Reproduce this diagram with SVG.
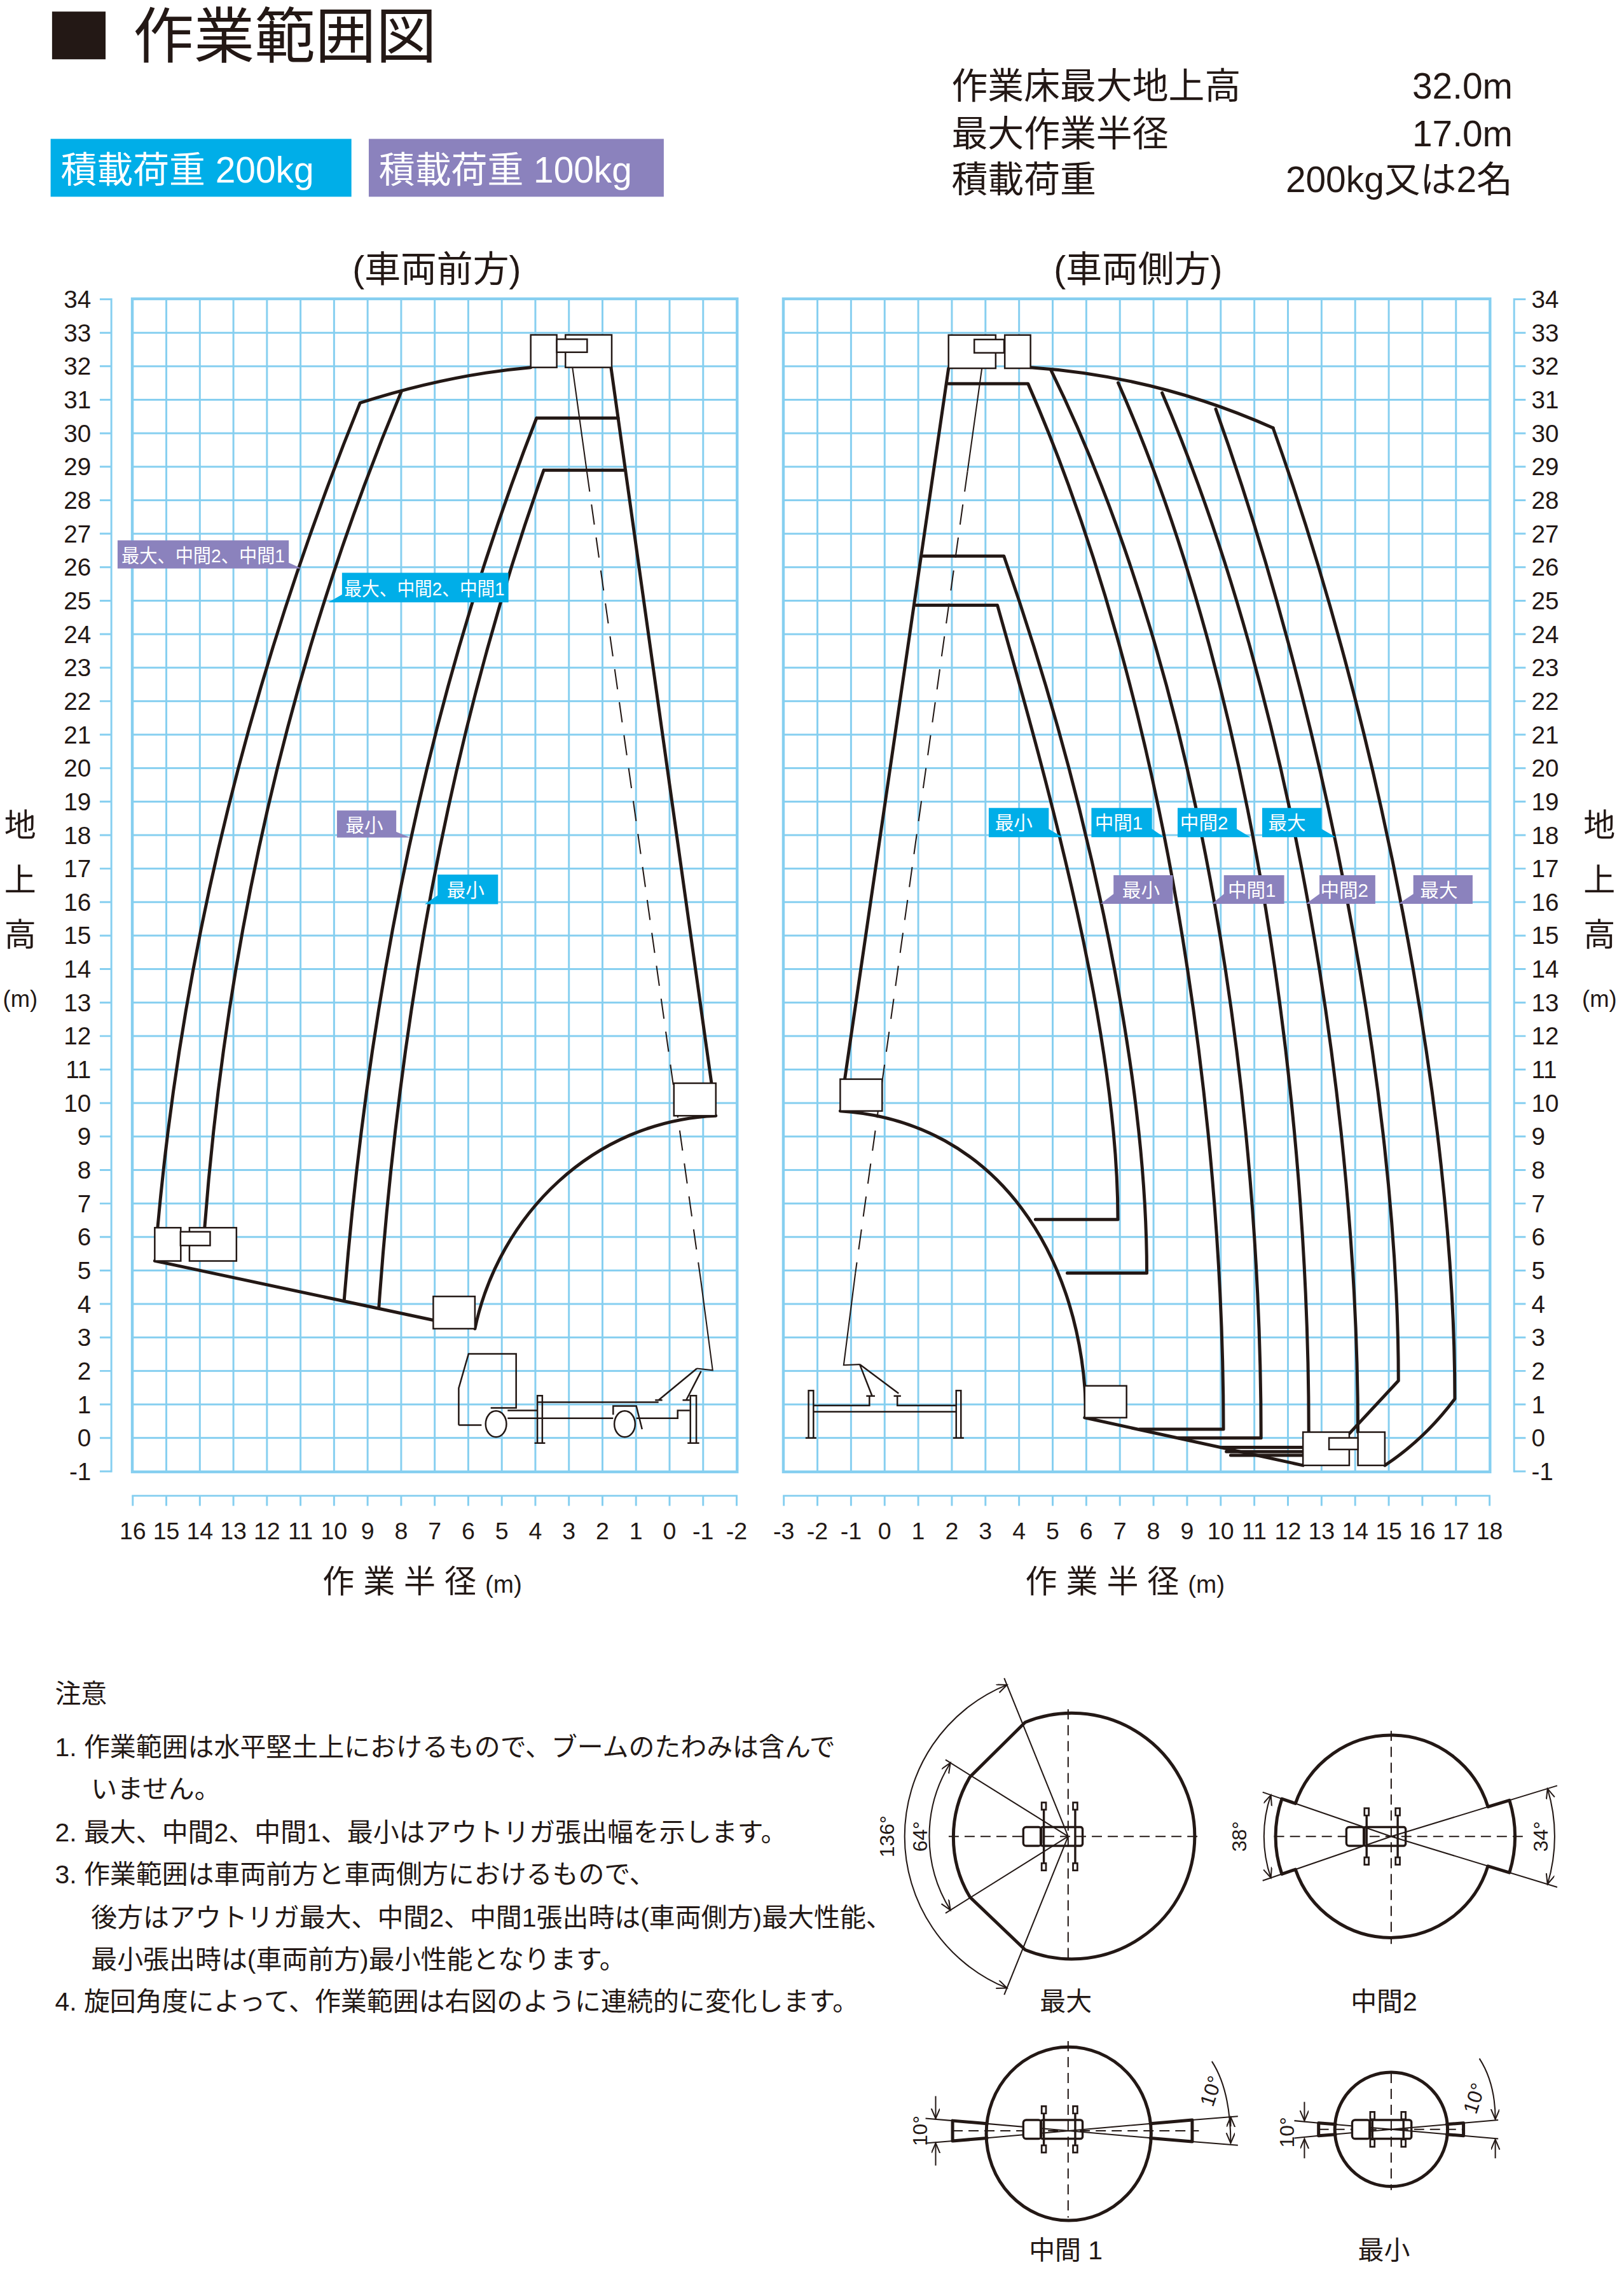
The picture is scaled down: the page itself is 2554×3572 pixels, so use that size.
<svg xmlns="http://www.w3.org/2000/svg" width="2554" height="3572" viewBox="0 0 2554 3572">
<style>
text{font-family:"Liberation Sans","Noto Sans CJK JP",sans-serif;fill:#231815}
.b{fill:none;stroke:#231815;stroke-width:2.2;stroke-linejoin:round;stroke-linecap:round}
.t{fill:#fff;stroke:#231815;stroke-width:1.1}
.tn{fill:none;stroke:#231815;stroke-width:0.9}
.d{fill:none;stroke:#231815;stroke-width:0.9;stroke-dasharray:14 9}
.dc{fill:none;stroke:#231815;stroke-width:0.9;stroke-dasharray:7 4}
.ax{stroke:#86cff0;stroke-width:1.3;fill:none}
.gbox{stroke:#86cff0;stroke-width:1.3}
.tk{stroke:#86cff0;fill:none}
.yl{font-size:17px;text-anchor:end}
.yr{font-size:17px;text-anchor:start}
.xl{font-size:16.5px;text-anchor:middle}
.lab{font-size:13px;fill:#fff}
.cy{fill:#00aee8}
.pu{fill:#8b82bd}
.n{font-size:18px}
.dim{font-size:14px;text-anchor:middle}
</style>
<defs>
<pattern id="gl" x="91.15" y="206.25" width="23.2" height="23.15" patternUnits="userSpaceOnUse"><path d="M0,0.65H23.2M0.65,0V23.15" stroke="#86cff0" stroke-width="1.3"/></pattern>
<pattern id="gr" x="541.35" y="206.25" width="23.24" height="23.15" patternUnits="userSpaceOnUse"><path d="M0,0.65H23.24M0.65,0V23.15" stroke="#86cff0" stroke-width="1.3"/></pattern>
<marker id="ar" markerUnits="userSpaceOnUse" markerWidth="10" markerHeight="8" refX="7" refY="3" orient="auto-start-reverse" viewBox="0 0 10 8"><path d="M0,0L7,3L0,6" fill="none" stroke="#231815" stroke-width="0.9"/></marker>
<g id="veh"><rect x="-31" y="-6.5" width="12.5" height="13" rx="2" fill="#fff" stroke="#231815" stroke-width="1.5"/><rect x="-19" y="-6.5" width="29" height="13" rx="1.5" fill="none" stroke="#231815" stroke-width="1.5"/></g>
</defs>
<rect width="2554" height="3572" fill="#fff"/>
<g transform="scale(2.2743)">
<g id="header">
<rect x="36" y="8" width="37" height="33" fill="#231815"/>
<text x="92" y="40" font-size="42">作業範囲図</text>
<rect x="35" y="96" width="208" height="40" fill="#00aee8"/>
<text x="42" y="126" font-size="25" style="fill:#fff">積載荷重 200kg</text>
<rect x="255" y="96" width="204" height="40" fill="#8b82bd"/>
<text x="262" y="126" font-size="25" style="fill:#fff">積載荷重 100kg</text>
<text x="658" y="68" font-size="25">作業床最大地上高</text>
<text x="1046" y="68" font-size="25" text-anchor="end">32.0m</text>
<text x="658" y="101" font-size="25">最大作業半径</text>
<text x="1046" y="101" font-size="25" text-anchor="end">17.0m</text>
<text x="658" y="133" font-size="25">積載荷重</text>
<text x="1046" y="133" font-size="25" text-anchor="end">200kg又は2名</text>
<text x="302" y="195" font-size="25" text-anchor="middle">(車両前方)</text>
<text x="787" y="195" font-size="25" text-anchor="middle">(車両側方)</text>
</g>
<g id="grids">
<rect x="91.15" y="206.25" width="418.9" height="811.55" fill="url(#gl)" class="gbox"/>
<rect x="541.35" y="206.25" width="489.3" height="811.55" fill="url(#gr)" class="gbox"/>
<line x1="77" y1="206.25" x2="77" y2="1017.8" class="ax"/>
<line x1="73" y1="206.25" x2="73" y2="1018" class="tk" stroke-width="8" stroke-dasharray="1.3 21.85"/>
<line x1="1047" y1="206.25" x2="1047" y2="1017.8" class="ax"/>
<line x1="1051" y1="206.25" x2="1051" y2="1018" class="tk" stroke-width="8" stroke-dasharray="1.3 21.85"/>
<line x1="91.15" y1="1034" x2="510.05" y2="1034" class="ax"/>
<line x1="91.15" y1="1037.5" x2="511" y2="1037.5" class="tk" stroke-width="7" stroke-dasharray="1.3 21.9"/>
<line x1="541.35" y1="1034" x2="1030.65" y2="1034" class="ax"/>
<line x1="541.35" y1="1037.5" x2="1032" y2="1037.5" class="tk" stroke-width="7" stroke-dasharray="1.3 21.94"/>
</g>
<g id="axis-labels">
<text class="yl"><tspan x="63" y="212.9">34</tspan><tspan x="63" y="236">33</tspan><tspan x="63" y="259.2">32</tspan><tspan x="63" y="282.3">31</tspan><tspan x="63" y="305.5">30</tspan><tspan x="63" y="328.6">29</tspan><tspan x="63" y="351.8">28</tspan><tspan x="63" y="374.9">27</tspan><tspan x="63" y="398.1">26</tspan><tspan x="63" y="421.2">25</tspan><tspan x="63" y="444.4">24</tspan><tspan x="63" y="467.5">23</tspan><tspan x="63" y="490.7">22</tspan><tspan x="63" y="513.8">21</tspan><tspan x="63" y="537">20</tspan><tspan x="63" y="560.1">19</tspan><tspan x="63" y="583.3">18</tspan><tspan x="63" y="606.4">17</tspan><tspan x="63" y="629.6">16</tspan><tspan x="63" y="652.7">15</tspan><tspan x="63" y="675.9">14</tspan><tspan x="63" y="699">13</tspan><tspan x="63" y="722.2">12</tspan><tspan x="63" y="745.3">11</tspan><tspan x="63" y="768.5">10</tspan><tspan x="63" y="791.6">9</tspan><tspan x="63" y="814.8">8</tspan><tspan x="63" y="837.9">7</tspan><tspan x="63" y="861.1">6</tspan><tspan x="63" y="884.2">5</tspan><tspan x="63" y="907.4">4</tspan><tspan x="63" y="930.5">3</tspan><tspan x="63" y="953.7">2</tspan><tspan x="63" y="976.8">1</tspan><tspan x="63" y="1000">0</tspan><tspan x="63" y="1023.1">-1</tspan></text>
<text class="yr"><tspan x="1059" y="212.9">34</tspan><tspan x="1059" y="236">33</tspan><tspan x="1059" y="259.2">32</tspan><tspan x="1059" y="282.3">31</tspan><tspan x="1059" y="305.5">30</tspan><tspan x="1059" y="328.6">29</tspan><tspan x="1059" y="351.8">28</tspan><tspan x="1059" y="374.9">27</tspan><tspan x="1059" y="398.1">26</tspan><tspan x="1059" y="421.2">25</tspan><tspan x="1059" y="444.4">24</tspan><tspan x="1059" y="467.5">23</tspan><tspan x="1059" y="490.7">22</tspan><tspan x="1059" y="513.8">21</tspan><tspan x="1059" y="537">20</tspan><tspan x="1059" y="560.1">19</tspan><tspan x="1059" y="583.3">18</tspan><tspan x="1059" y="606.4">17</tspan><tspan x="1059" y="629.6">16</tspan><tspan x="1059" y="652.7">15</tspan><tspan x="1059" y="675.9">14</tspan><tspan x="1059" y="699">13</tspan><tspan x="1059" y="722.2">12</tspan><tspan x="1059" y="745.3">11</tspan><tspan x="1059" y="768.5">10</tspan><tspan x="1059" y="791.6">9</tspan><tspan x="1059" y="814.8">8</tspan><tspan x="1059" y="837.9">7</tspan><tspan x="1059" y="861.1">6</tspan><tspan x="1059" y="884.2">5</tspan><tspan x="1059" y="907.4">4</tspan><tspan x="1059" y="930.5">3</tspan><tspan x="1059" y="953.7">2</tspan><tspan x="1059" y="976.8">1</tspan><tspan x="1059" y="1000">0</tspan><tspan x="1059" y="1023.1">-1</tspan></text>
<text class="xl"><tspan x="91.8" y="1064">16</tspan><tspan x="115" y="1064">15</tspan><tspan x="138.2" y="1064">14</tspan><tspan x="161.4" y="1064">13</tspan><tspan x="184.6" y="1064">12</tspan><tspan x="207.8" y="1064">11</tspan><tspan x="231" y="1064">10</tspan><tspan x="254.2" y="1064">9</tspan><tspan x="277.4" y="1064">8</tspan><tspan x="300.6" y="1064">7</tspan><tspan x="323.8" y="1064">6</tspan><tspan x="347" y="1064">5</tspan><tspan x="370.2" y="1064">4</tspan><tspan x="393.4" y="1064">3</tspan><tspan x="416.6" y="1064">2</tspan><tspan x="439.8" y="1064">1</tspan><tspan x="463" y="1064">0</tspan><tspan x="486.2" y="1064">-1</tspan><tspan x="509.4" y="1064">-2</tspan></text>
<text class="xl"><tspan x="542" y="1064">-3</tspan><tspan x="565.2" y="1064">-2</tspan><tspan x="588.5" y="1064">-1</tspan><tspan x="611.7" y="1064">0</tspan><tspan x="634.9" y="1064">1</tspan><tspan x="658.2" y="1064">2</tspan><tspan x="681.4" y="1064">3</tspan><tspan x="704.7" y="1064">4</tspan><tspan x="727.9" y="1064">5</tspan><tspan x="751.1" y="1064">6</tspan><tspan x="774.4" y="1064">7</tspan><tspan x="797.6" y="1064">8</tspan><tspan x="820.9" y="1064">9</tspan><tspan x="844.1" y="1064">10</tspan><tspan x="867.3" y="1064">11</tspan><tspan x="890.6" y="1064">12</tspan><tspan x="913.8" y="1064">13</tspan><tspan x="937.1" y="1064">14</tspan><tspan x="960.3" y="1064">15</tspan><tspan x="983.5" y="1064">16</tspan><tspan x="1006.8" y="1064">17</tspan><tspan x="1030" y="1064">18</tspan></text>
<text x="292" y="1101" font-size="22" text-anchor="middle">作 業 半 径 <tspan font-size="17">(m)</tspan></text>
<text x="778" y="1101" font-size="22" text-anchor="middle">作 業 半 径 <tspan font-size="17">(m)</tspan></text>
<text font-size="22" text-anchor="middle"><tspan x="14" y="578">地</tspan><tspan x="14" y="616">上</tspan><tspan x="14" y="654">高</tspan><tspan x="14" y="696" font-size="16">(m)</tspan></text>
<text font-size="22" text-anchor="middle"><tspan x="1106" y="578">地</tspan><tspan x="1106" y="616">上</tspan><tspan x="1106" y="654">高</tspan><tspan x="1106" y="696" font-size="16">(m)</tspan></text>
</g>
<g id="connectors">
<path class="b" d="M367,254 Q310,259 249,278.5 Q135,560 109,848.7"/>
<path class="b" d="M277.5,270.7 Q165,540 141.5,848.7"/>
<path class="b" d="M371,289 H427.4 M371,289 Q265,560 238,898.6"/>
<path class="b" d="M376,325 H432.5 M376,325 Q285,580 262,903.5"/>
<path class="b" d="M422.5,254 L492,748.8"/>
<path class="b" d="M107,871.6 L299.6,912.6"/>
<path class="b" d="M328.4,918.5 C345,840 410,775 495,771.3"/>
<path class="tn" d="M394.6,245 L405.8,326"/>
<path class="d" d="M405.8,326 L484.6,885"/>
<path class="tn" d="M484.6,885 L492.8,947.2 L481.9,946"/>
<path class="b" d="M712.6,254 Q800,260 880.3,295.8"/>
<path class="b" d="M655.9,254.6 L584,747"/>
<path class="b" d="M655.9,265.3 H710.9 C805.9,482 846,771 846,988 H788"/>
<path class="b" d="M726.9,256.2 C834.9,477 872,773 872,994 H815"/>
<path class="b" d="M773.2,264.6 C869.2,482 905,773 905,990"/>
<path class="b" d="M803.6,271.6 C895.6,487 939,775 939,990"/>
<path class="b" d="M840.7,282.8 C912.7,484 967,753 967,954.5 L933,991"/>
<path class="b" d="M880.3,295.8 C952.3,497 1006,766 1006,967 Q985,995 957.6,1013"/>
<path class="b" d="M638.5,384.4 H694.2 C746.2,533 793,731 793,880 H738"/>
<path class="b" d="M633.5,418.4 H689.7 C725.7,546 773,715 773,843 H716"/>
<path class="b" d="M581,768 C690,775 750,870 751,980"/>
<path class="b" d="M750,980 L901,1013"/>
<path class="b" d="M845,1000.5 H901 M848,1003.5 H901 M851,1006 H901" stroke-width="1.6"/>
<path class="tn" d="M681,240 L669,326"/>
<path class="d" d="M669,326 L591.5,880"/>
<path class="tn" d="M591.5,880 L583.4,943.7 L594.5,943.2"/>
</g>
<g id="front-basket-top"><rect class="t" x="367" y="231.5" width="18" height="22.5"/><rect class="t" x="391" y="231.5" width="32" height="22.5"/><rect class="t" x="385" y="234.5" width="21" height="9"/></g>
<g id="front-basket-left"><rect class="t" x="107" y="848.7" width="18" height="23"/><rect class="t" x="131" y="848.7" width="32.5" height="23"/><rect class="t" x="124.8" y="851.5" width="20.5" height="9.5"/></g>
<g id="front-basket-low"><rect class="t" x="299.6" y="896.2" width="28.8" height="22.3"/></g>
<g id="front-basket-right"><rect class="t" x="466" y="748.8" width="29" height="22.5"/></g>
<g id="front-truck" fill="none" stroke="#231815" stroke-width="1.1">
<path d="M317.2,985.1 V959.6 L324,935.9 H356.9 V973.3 H339.3 M317.2,985.1 H333"/>
<ellipse cx="343" cy="984.4" rx="7.2" ry="9" fill="#fff"/>
<ellipse cx="432" cy="984.4" rx="7.2" ry="9" fill="#fff"/>
<path d="M371.6,969.3 H455.4 M351,980.4 H424 M440,980.4 H468.6 V975 H477 M351,975 H371.6 M424,978 V972 H440 L444,988"/>
<path d="M371.6,997.6 V964.8 H375 V997.6 M369.6,997.6 H377 M477.4,997.6 V964.8 H481.5 V997.6 M475.4,997.6 H483.5"/>
<path d="M455.4,967.9 L481.9,946 M474.5,967.9 L484.8,947.9 M453,967.9 H458 M472,967.9 H477"/>
</g>
<g id="side-basket-top"><rect class="t" x="655.9" y="231.6" width="32.6" height="23"/><rect class="t" x="694.8" y="231.6" width="17.8" height="23"/><rect class="t" x="673.7" y="234.7" width="20.6" height="9.2"/></g>
<g id="side-basket-left"><rect class="t" x="581" y="746" width="29" height="22"/></g>
<g id="side-basket-low"><rect class="t" x="750" y="958" width="29" height="22"/></g>
<g id="side-basket-right"><rect class="t" x="901" y="990" width="32" height="23"/><rect class="t" x="939" y="990" width="18.6" height="23"/><rect class="t" x="919" y="994" width="20" height="8"/></g>
<g id="side-truck" fill="none" stroke="#231815" stroke-width="1.1">
<path d="M559.1,994 V961.3 H562.5 V994 M557,994 H564.5 M661.2,994 V961.3 H664.5 V994 M659,994 H666.5"/>
<path d="M562.5,971.6 H601.2 V965 M620.5,965 V971.6 H661.2 M562.5,975.9 H661.2"/>
<path d="M594.5,943.2 L602.9,964.6 M594.5,943.2 L621.4,963.3 M599,965 H605 M618,965 H623"/>
</g>
<g id="labels">
<path class="pu" d="M81.3,373.5 H199.7 V389 L208.5,393 H81.3 Z"/><text class="lab" x="84" y="388.5" textLength="113" lengthAdjust="spacingAndGlyphs">最大、中間2、中間1</text>
<path class="cy" d="M236.5,396 H351.6 V416.4 H227 L236.5,411 Z"/><text class="lab" x="238" y="411.5" textLength="111" lengthAdjust="spacingAndGlyphs">最大、中間2、中間1</text>
<path class="pu" d="M233,560.3 H274 V575 L283.5,579 H233 Z"/><text class="lab" x="239" y="575">最小</text>
<path class="cy" d="M302.6,604.6 H344.4 V625 H293.7 L302.6,619 Z"/><text class="lab" x="309" y="620">最小</text>
<path class="cy" d="M683.7,558.5 H725.2 V573 L734.7,578.7 H683.7 Z"/><text class="lab" x="688" y="573.5">最小</text>
<path class="cy" d="M754.7,558.5 H796.6 V573 L805,578.7 H754.7 Z"/><text class="lab" x="757" y="573.5">中間1</text>
<path class="cy" d="M814.3,558.5 H855.2 V573 L864.7,578.7 H814.3 Z"/><text class="lab" x="816" y="573.5">中間2</text>
<path class="cy" d="M872.8,558.5 H913.9 V573 L923.7,578.7 H872.8 Z"/><text class="lab" x="877" y="573.5">最大</text>
<path class="pu" d="M770,605 H811 V624.8 H761 L770,618 Z"/><text class="lab" x="776" y="620">最小</text>
<path class="pu" d="M846.3,605 H888 V624.8 H838 L846.3,618 Z"/><text class="lab" x="849" y="620">中間1</text>
<path class="pu" d="M912.4,605 H951 V624.8 H903 L912.4,618 Z"/><text class="lab" x="913" y="620">中間2</text>
<path class="pu" d="M977.3,605 H1018.3 V624.8 H967 L977.3,618 Z"/><text class="lab" x="982" y="620">最大</text>
</g>
<g id="notes">
<text class="n" x="38" y="1177" font-size="19">注意</text>
<text class="n" x="38" y="1214">1. 作業範囲は水平堅土上におけるもので、ブームのたわみは含んで</text>
<text class="n" x="63" y="1243">いません。</text>
<text class="n" x="38" y="1273">2. 最大、中間2、中間1、最小はアウトリガ張出幅を示します。</text>
<text class="n" x="38" y="1302">3. 作業範囲は車両前方と車両側方におけるもので、</text>
<text class="n" x="63" y="1332">後方はアウトリガ最大、中間2、中間1張出時は(車両側方)最大性能、</text>
<text class="n" x="63" y="1361">最小張出時は(車両前方)最小性能となります。</text>
<text class="n" x="38" y="1390">4. 旋回角度によって、作業範囲は右図のように連続的に変化します。</text>
</g>
<g id="rot-max">
<path class="b" stroke-width="1.8" d="M708.9,1190.6 A85,85 0 1,1 708.9,1347.9 L670.7,1311.4 A81,81 0 0,1 670.7,1228.4 Z"/>
<path class="dc" d="M656,1269.5 H829 M738.6,1181.6 V1354.6"/>
<path class="tn" d="M738.6,1269.5 L694.4,1160.1 M738.6,1269.5 L694.4,1378.9 M738.6,1269.5 L653.8,1216.5 M738.6,1269.5 L653.8,1322.5"/>
<path class="tn" d="M696.3,1164.7 A113,113 0 0,0 696.3,1374.3" marker-start="url(#ar)" marker-end="url(#ar)"/>
<path class="tn" d="M657.2,1218.6 A96,96 0 0,0 657.2,1320.4" marker-start="url(#ar)" marker-end="url(#ar)"/>
<text class="dim" transform="translate(618,1269.5) rotate(-90)">136°</text>
<text class="dim" transform="translate(641,1269.5) rotate(-90)">64°</text>
<use href="#veh" x="738.6" y="1269.5"/>
<path fill="none" stroke="#231815" stroke-width="1.5" d="M721.8,1248 V1291 M743.5,1248 V1291"/>
<path fill="#fff" stroke="#231815" stroke-width="1.2" d="M720.3,1246h3v5h-3z M742,1246h3v5h-3z M720.3,1288h3v5h-3z M742,1288h3v5h-3z"/>
<text x="737" y="1390" font-size="18" text-anchor="middle">最大</text>
</g>
<g id="rot-mid2">
<path class="b" stroke-width="1.8" d="M1028.9,1249 A70,70 0 0,0 895.8,1246.7 L886.4,1243.5 A80,80 0 0,0 886.4,1295.5 L895.8,1292.3 A70,70 0 0,0 1028.9,1290 L1043.8,1294.5 A85.5,85.5 0 0,0 1043.8,1244.5 Z"/>
<path class="dc" d="M881,1269.5 H1054 M962,1196.5 V1343.8"/>
<path class="tn" d="M962,1269.5 L873.1,1238.9 M962,1269.5 L873.1,1300.1 M962,1269.5 L1076.8,1234.4 M962,1269.5 L1076.8,1304.6"/>
<path class="tn" d="M878.8,1240.9 A88,88 0 0,0 878.8,1298.1" marker-start="url(#ar)" marker-end="url(#ar)"/>
<path class="tn" d="M1070.1,1236.5 A113,113 0 0,1 1070.1,1302.5" marker-start="url(#ar)" marker-end="url(#ar)"/>
<text class="dim" transform="translate(862,1269.5) rotate(-90)">38°</text>
<text class="dim" transform="translate(1070,1269.5) rotate(-90)">34°</text>
<use href="#veh" x="962" y="1269.5"/>
<path fill="none" stroke="#231815" stroke-width="1.5" d="M945,1252 V1287 M966.5,1252 V1287"/>
<path fill="#fff" stroke="#231815" stroke-width="1.2" d="M943.5,1250h3v5h-3z M965,1250h3v5h-3z M943.5,1284h3v5h-3z M965,1284h3v5h-3z"/>
<text x="957" y="1390" font-size="18" text-anchor="middle">中間2</text>
</g>
<g id="rot-mid1">
<ellipse class="b" stroke-width="1.8" cx="739" cy="1475" rx="57" ry="60"/>
<path class="dc" d="M658.7,1473 H829 M738.6,1411 V1533"/>
<path class="b" stroke-width="1.6" d="M682.5,1468 L658.7,1466 V1480 L682.5,1478 M795.5,1468 L824.4,1465.5 V1480.5 L795.5,1478"/>
<path class="tn" d="M658.7,1466 L739,1473 L658.7,1480 M824.4,1465.5 L739,1473 L824.4,1480.5"/>
<path class="tn" d="M658.7,1466 L640,1464.4 M658.7,1480 L640,1481.6 M824.4,1465.5 L856,1463 M824.4,1480.5 L856,1483"/>
<path class="tn" d="M647,1449 V1464.5" marker-end="url(#ar)"/><path class="tn" d="M647,1497 V1481.5" marker-end="url(#ar)"/>
<path class="tn" d="M838,1425 Q851,1445 851,1481.5" marker-end="url(#ar)"/><path class="tn" d="M851,1470 V1463.5" marker-end="url(#ar)"/>
<text class="dim" transform="translate(641,1473) rotate(-90)">10°</text>
<text class="dim" transform="translate(842,1447) rotate(-72)">10°</text>
<use href="#veh" x="738.6" y="1472"/>
<path fill="none" stroke="#231815" stroke-width="1.5" d="M721.8,1459 V1485 M743.5,1459 V1485"/>
<path fill="#fff" stroke="#231815" stroke-width="1.2" d="M720.3,1456h3v5h-3z M742,1456h3v5h-3z M720.3,1483h3v5h-3z M742,1483h3v5h-3z"/>
<text x="737" y="1562" font-size="18" text-anchor="middle">中間 1</text>
</g>
<g id="rot-min">
<ellipse class="b" stroke-width="1.8" cx="962" cy="1472" rx="39" ry="39.5"/>
<path class="dc" d="M911.8,1472 H1012 M962,1433 V1514"/>
<path class="b" stroke-width="1.6" d="M923.5,1468.5 L911.8,1467.6 V1476.4 L923.5,1475.5 M1000.5,1468.5 L1012,1467.6 V1476.4 L1000.5,1475.5"/>
<path class="tn" d="M911.8,1467.6 L962,1472 L911.8,1476.4 M1012,1467.6 L962,1472 L1012,1476.4"/>
<path class="tn" d="M911.8,1467.6 L895,1466 M911.8,1476.4 L895,1478 M1012,1467.6 L1036,1465.5 M1012,1476.4 L1036,1478.5"/>
<path class="tn" d="M902,1453 V1466" marker-end="url(#ar)"/><path class="tn" d="M902,1492 V1478.5" marker-end="url(#ar)"/>
<path class="tn" d="M1023,1423 Q1034,1440 1034,1465" marker-end="url(#ar)"/><path class="tn" d="M1034,1492 V1479" marker-end="url(#ar)"/>
<text class="dim" transform="translate(895,1474) rotate(-90)">10°</text>
<text class="dim" transform="translate(1024,1452) rotate(-72)">10°</text>
<use href="#veh" x="966" y="1472"/>
<path fill="none" stroke="#231815" stroke-width="1.5" d="M949,1462 V1482 M970.5,1462 V1482"/>
<path fill="#fff" stroke="#231815" stroke-width="1.2" d="M947.5,1460h3v5h-3z M969,1460h3v5h-3z M947.5,1479h3v5h-3z M969,1479h3v5h-3z"/>
<text x="957" y="1562" font-size="18" text-anchor="middle">最小</text>
</g>
</g>
</svg>
